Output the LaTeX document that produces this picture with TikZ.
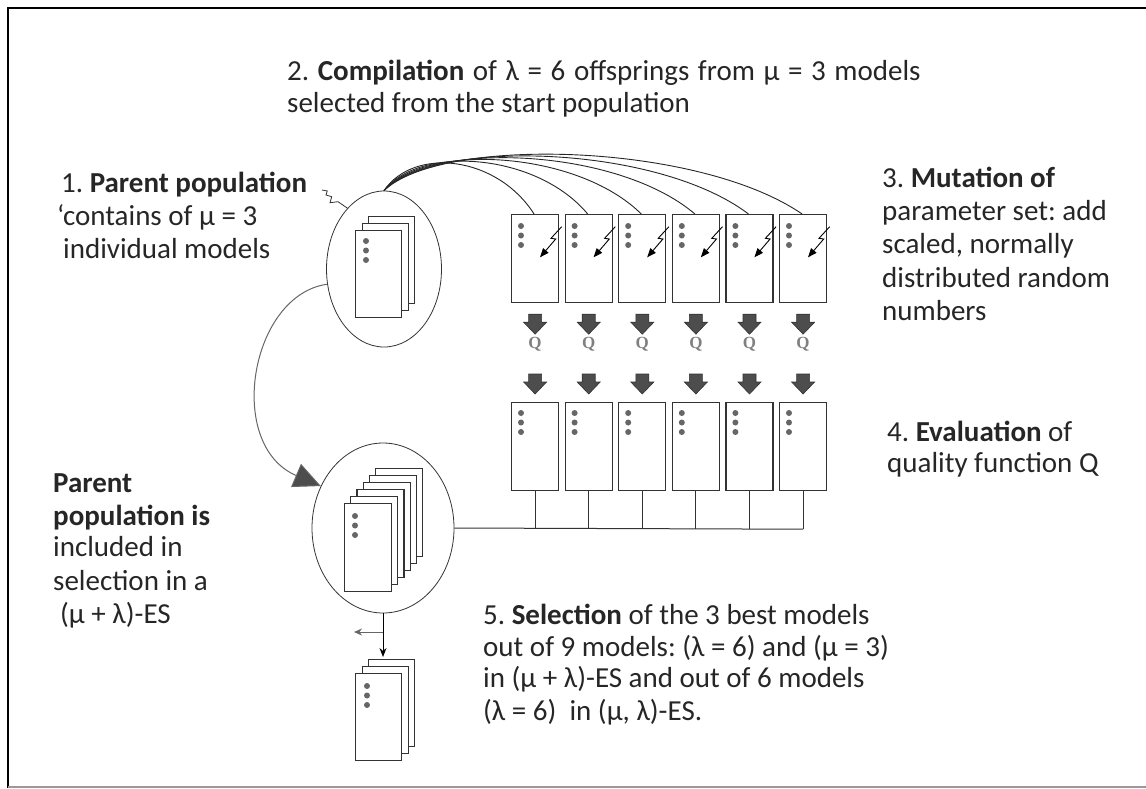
\documentclass[tikz,border=0pt]{standalone}
\usepackage{fontspec}
\setmainfont{Carlito}
\newfontfamily\qfont{Liberation Serif}
\usetikzlibrary{arrows.meta,shapes.geometric,calc}
\definecolor{dotc}{HTML}{666666}
\definecolor{boxc}{HTML}{333333}
\definecolor{fatc}{HTML}{4D4D4D}
\definecolor{qc}{HTML}{808080}
\definecolor{curvec}{HTML}{666666}
\frenchspacing
\begin{document}
\begin{tikzpicture}[x=1pt,y=-1pt,
  txt/.style={anchor=base west, inner sep=0pt, font=\fontsize{29}{33}\selectfont, text=black!85},
  model/.style={draw=boxc, line width=1.2pt, fill=white, minimum width=47pt, minimum height=88pt, anchor=north west, inner sep=0pt},
  sheet/.style={draw=boxc, line width=1.1pt, fill=white, minimum width=46pt, minimum height=87pt, anchor=north west, inner sep=0pt},
  popell/.style={draw=boxc, line width=0.8pt, ellipse, inner sep=0pt},
  qlab/.style={font=\qfont\bfseries\fontsize{17}{17}\selectfont, text=qc, inner sep=0pt},
  thin/.style={draw=boxc, line width=1pt},
  pics/fat/.style={code={\filldraw[fill=fatc, draw=black!80, line width=0.6pt] (-6.5,0) -- (6.5,0) -- (6.5,8) -- (11.5,8) -- (0,20) -- (-11.5,8) -- (-6.5,8) -- cycle;}},
  pics/dots/.style={code={\fill[dotc] (0,0) circle (3pt) (0,9.5) circle (3pt) (0,19) circle (3pt);}}
]
\useasboundingbox (0,0) rectangle (1146,788);
% frame
\draw[line width=2.5pt] (8,788) -- (8,8) -- (1146,8);
\draw[black!40, line width=1.5pt] (8,787) -- (1146,787);

% texts
\node[txt] (t2a) at (287,80) {\spaceskip=8.6pt 2. \textbf{Compilation} of λ = 6 offsprings from μ = 3 models};
\node[txt] (t2b) at (287,112) {selected from the start population};

\node[txt] (t1a) at (61,192) {1. \textbf{Parent population}};
\node[txt] (t1b) at (57,225) {‘contains of μ = 3};
\node[txt] (t1c) at (63,258) {individual models};

\node[txt] (t3a) at (882,187) {3. \textbf{Mutation of}};
\node[txt] (t3b) at (882,220) {parameter set: add};
\node[txt] (t3c) at (882,253) {scaled, normally};
\node[txt] (t3d) at (882,287) {distributed random};
\node[txt] (t3e) at (882,320) {numbers};

\node[txt] (t4a) at (887,441) {4. \textbf{Evaluation} of};
\node[txt] (t4b) at (887,472) {quality function Q};

\node[txt] (tpa) at (53,492) {\textbf{Parent}};
\node[txt] (tpb) at (53,525) {\textbf{population is}};
\node[txt] (tpc) at (53,556) {included in};
\node[txt] (tpd) at (53,590) {selection in a};
\node[txt] (tpe) at (60,623) {(μ + λ)-ES};

\node[txt] (t5a) at (483,624) {5. \textbf{Selection} of the 3 best models};
\node[txt] (t5b) at (483,656) {out of 9 models: (λ = 6) and (μ = 3)};
\node[txt] (t5c) at (483,687) {in (μ + λ)-ES and out of 6 models};
\node[txt] (t5d) at (483,720) {(λ = 6)\ \ in (μ, λ)-ES.};

% parent population 1
\node[popell, minimum width=115pt, minimum height=156pt] (pop1) at (384,269) {};
\foreach \k in {2,1,0} {
  \node[sheet] (pa\k) at ({355+6.5*\k},{230-7*\k}) {};
}
\pic at ($(pa0.north west)+(11,11)$) {dots};
\coordinate (zz) at (322,190);
\draw[boxc, line width=0.8pt] (pop1.121) -- (338,201.7) -- (330,202.7) -- (331.7,196.7) -- (326,195) -- (327.3,191) -- (zz);

% offspring rows
\foreach \i in {1,...,6} {
  \pgfmathsetmacro{\bx}{511+53.6*(\i-1)}
  \node[model] (o\i) at (\bx,214) {};
  \node[model] (e\i) at (\bx,402) {};
  \pic at ($(o\i.north west)+(10,12)$) {dots};
  \pic at ($(e\i.north west)+(10,11)$) {dots};
  \draw[black, line width=0.9pt, -{Triangle[length=9pt,width=7pt]}]
    ($(o\i.north west)+(50.7,12.7)$) -- ($(o\i.north west)+(40,24.3)$) -- ($(o\i.north west)+(44.7,25)$) -- ($(o\i.north west)+(29,43.3)$);
  \pic at ($(o\i.south)+(0,11)$) {fat};
  \node[qlab] (q\i) at ($(o\i.south)+(0,41)$) {Q};
  \pic at ($(e\i.north)+(0,-28)$) {fat};
  \pgfmathsetmacro{\D}{\bx+23.5-384}
  \draw[black!85, line width=0.9pt] (pop1.north) .. controls +({15+0.1*\D},{-(38+0.04*\D)}) and +({-0.25*\D},{-(51+0.05*\D)}) .. ($(o\i.north)+(-1,0)$);
  \coordinate (j\i) at ($(e\i.south)+(0,38)$);
  \draw[thin] (e\i.south) -- (j\i);
}

% parent population 2
\node[popell, minimum width=142pt, minimum height=170pt] (pop2) at (383,528) {};
\foreach \k in {5,4,...,0} {
  \node[sheet, minimum width=47pt, minimum height=88pt] (pb\k) at ({344+6.2*\k},{503-7*\k}) {};
}
\pic at ($(pb0.north west)+(11,13)$) {dots};
\draw[thin] (pop2.east) -- (j6);

% curved arrow
\draw[curvec, line width=1pt, -{Triangle[length=27pt,width=25pt,fill=fatc]}] (pop1.195) .. controls (250,295) and (225,445) .. (pop2.146);

% result stack
\foreach \k in {2,1,0} {
  \node[sheet] (r\k) at ({355+6.5*\k},{673-7*\k}) {};
}
\pic at ($(r0.north west)+(12,13)$) {dots};
\coordinate (rt) at (383,657);
\draw[black, line width=1pt, -{Stealth[length=9pt,width=7pt]}] (pop2.south) -- (rt);
\coordinate (br) at (383,632);
\coordinate (brl) at (354,632);
\draw[black!60, line width=1pt, -{Stealth[length=8pt,width=7pt]}] (br) -- (brl);
\end{tikzpicture}
\end{document}
